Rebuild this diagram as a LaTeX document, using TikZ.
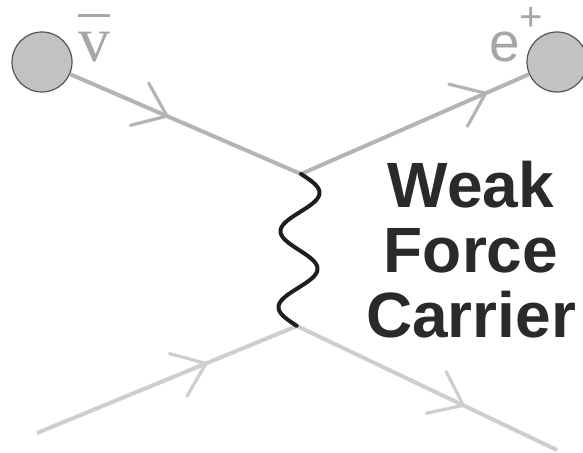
\documentclass[tikz,border=0pt]{standalone}
\usepackage{fontspec}
\setmainfont{Liberation Sans}
\newfontfamily\serifv{Liberation Serif}
\usetikzlibrary{decorations.markings}
\definecolor{ballfill}{HTML}{C2C2C2}
\definecolor{ballline}{HTML}{555555}
\definecolor{topline}{HTML}{B4B4B4}
\definecolor{botline}{HTML}{CECECE}
\definecolor{lblgray}{HTML}{A6A6A6}
\definecolor{txtdark}{HTML}{2A2A2A}
\definecolor{wavecol}{HTML}{1E1E1E}
\tikzset{
  ball/.style={circle, fill=ballfill, draw=ballline, line width=1.2pt, minimum size=60pt, inner sep=0pt},
  fermion/.style 2 args={draw=#1, line width=4pt,
    postaction={decorate, decoration={markings,
      mark=at position #2 with {\draw[#1, line width=3.2pt, line cap=round, line join=round] (-30pt,23pt) -- (0pt,0pt) -- (-30pt,-23pt);}}}},
  carrier/.style={draw=wavecol, line width=4pt, line cap=round, line join=round},
  partlbl/.style={text=lblgray, inner sep=0pt, anchor=base},
  bigtext/.style={text=txtdark, font=\fontsize{64}{65}\selectfont\bfseries, align=center, inner sep=0pt, anchor=north}
}
\begin{document}
\begin{tikzpicture}[x=1pt,y=-1pt]
\useasboundingbox (0,0) rectangle (583,452);
\fill[white] (0,0) rectangle (583,452);
% vertices and free ends
\coordinate (vtop) at (301,174);
\coordinate (vbot) at (297,326);
\coordinate (inend) at (37,433);
\coordinate (outend) at (557,450);
% particles
\node[ball] (nu) at (42,62) {};
\node[ball] (ep) at (557,62) {};
% fermion lines
\path[fermion={topline}{0.42}] (nu) -- (vtop);
\path[fermion={topline}{0.81}] (vtop) -- (ep);
\path[fermion={botline}{0.65}] (inend) -- (vbot);
\path[fermion={botline}{0.64}] (vbot) -- (outend);
% weak force carrier: two wavelengths from vtop to vbot
\draw[carrier, shift={(vtop)}] plot[domain=0:1, samples=120, smooth]
  ({-4*\x + 19*sin(720*\x)}, {152*\x});
% labels
\node[partlbl, font=\serifv\fontsize{64}{64}\selectfont] (nulbl) at (94,62)
  {\ooalign{\hfil\raisebox{45pt}{\rule{32pt}{2.5pt}}\hfil\cr\hfil v\hfil}};
\node[partlbl, anchor=base west, font=\fontsize{55}{55}\selectfont] (eplbl) at (489,62)
  {e\raisebox{31pt}{\fontsize{40}{40}\selectfont +}};
\node[bigtext] (wfc) at (471,161) {Weak\\Force\\Carrier};
\end{tikzpicture}
\end{document}
